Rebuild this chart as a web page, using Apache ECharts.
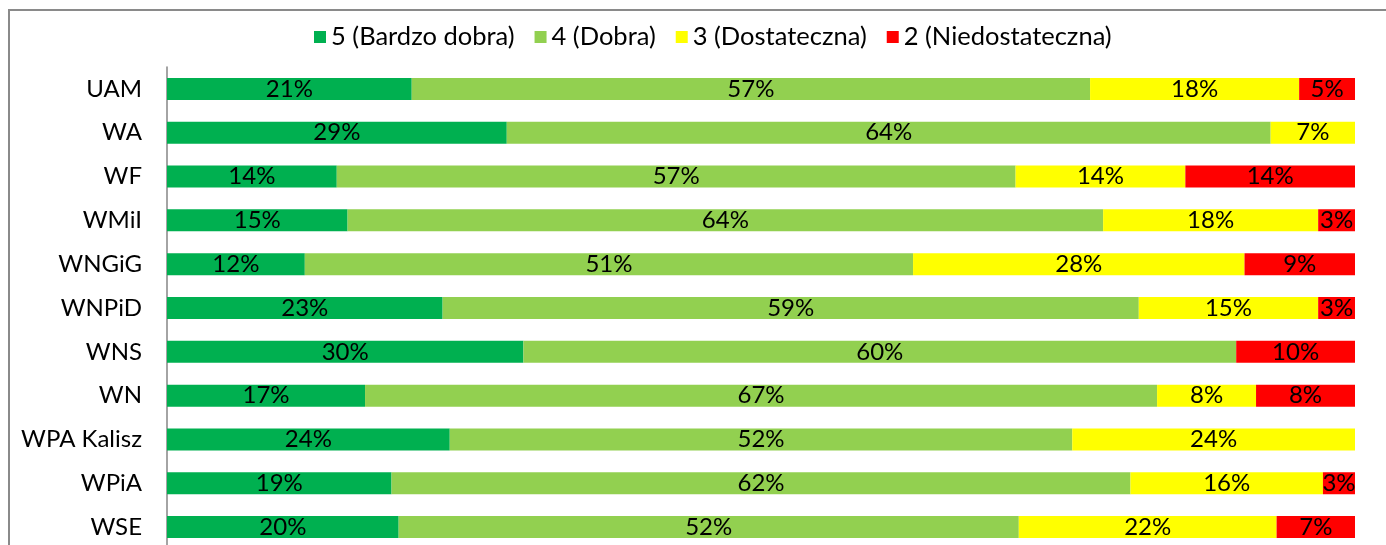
<!DOCTYPE html>
<html>
<head>
<meta charset="utf-8">
<script src="https://cdn.jsdelivr.net/npm/echarts@6/dist/echarts.min.js"></script>
<style>
  html, body { margin: 0; padding: 0; background: #fff; }
  #chart { width: 1386px; height: 545px; }
</style>
</head>
<body>
<div id="chart"></div>
<script>
const categories = ['UAM', 'WA', 'WF', 'WMiI', 'WNGiG', 'WNPiD', 'WNS', 'WN', 'WPA Kalisz', 'WPiA', 'WSE'];

// shares in %
const grade5 = [20.6, 28.6, 14.29, 15.2, 11.6, 23.2, 30.0, 16.67, 23.8, 18.9, 19.5];
const grade4 = [57.1, 64.3, 57.14, 63.6, 51.2, 58.6, 60.0, 66.67, 52.4, 62.2, 52.2];
const grade3 = [17.6, 7.1, 14.29, 18.1, 27.9, 15.1, 0, 8.33, 23.8, 16.2, 21.7];
const grade2 = [4.7, 0, 14.29, 3.1, 9.3, 3.1, 10.0, 8.33, 0, 2.7, 6.6];

const seriesNames = ['5 (Bardzo dobra)', '4 (Dobra)', '3 (Dostateczna)', '2 (Niedostateczna)'];
const seriesColors = ['#00B050', '#92D050', '#FFFF00', '#FF0000'];

const FONT = 'Lato';

const chart = echarts.init(document.getElementById('chart'), null, { renderer: 'canvas' });

const makeSeries = (name, values, color) => ({
  name,
  type: 'bar',
  stack: 'total',
  barWidth: 22,
  data: values,
  itemStyle: { color },
  label: {
    show: true,
    position: 'inside',
    color: '#000',
    fontFamily: FONT,
    fontSize: 24,
    formatter: (p) => (p.value > 0 ? Math.round(p.value) + '%' : '')
  },
  emphasis: { disabled: true }
});

const option = {
  animation: false,
  backgroundColor: '#fff',
  color: seriesColors,
  graphic: [
    {
      type: 'rect',
      silent: true,
      shape: { x: 9, y: 10, width: 1420, height: 600 },
      style: { fill: 'none', stroke: '#8a8a8a', lineWidth: 2 }
    }
  ],
  legend: {
    top: 19,
    left: 309,
    itemWidth: 12,
    itemHeight: 12,
    itemGap: 20,
    icon: 'rect',
    textStyle: { fontFamily: FONT, fontSize: 25.5, color: '#000' },
    data: seriesNames
  },
  grid: {
    left: 167,
    right: 31,
    top: 67,
    height: 482,
    outerBoundsMode: 'none',
    containLabel: false
  },
  xAxis: {
    type: 'value',
    min: 0,
    max: 100,
    show: false
  },
  yAxis: {
    type: 'category',
    inverse: true,
    data: categories,
    axisLine: { show: true, lineStyle: { color: '#868686', width: 1.5 } },
    axisTick: { show: false },
    axisLabel: { fontFamily: FONT, fontSize: 24, color: '#000', margin: 25 }
  },
  series: [
    makeSeries(seriesNames[0], grade5, seriesColors[0]),
    makeSeries(seriesNames[1], grade4, seriesColors[1]),
    makeSeries(seriesNames[2], grade3, seriesColors[2]),
    makeSeries(seriesNames[3], grade2, seriesColors[3])
  ]
};

chart.setOption(option);
</script>
</body>
</html>
